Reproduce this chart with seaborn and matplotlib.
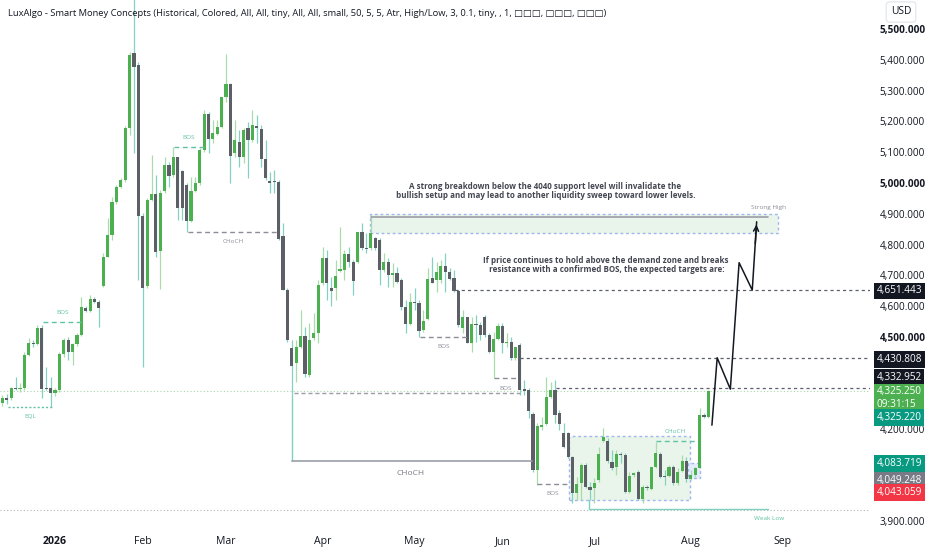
import numpy as np
import pandas as pd
import matplotlib
matplotlib.use("Agg")
import matplotlib.pyplot as plt
import matplotlib.transforms as mtransforms
from matplotlib.patches import Rectangle
import seaborn as sns

# ---------------- data ----------------
holidays = ["2025-12-25", "2026-01-01", "2026-01-19", "2026-02-16", "2026-04-03",
            "2026-05-25", "2026-06-19", "2026-07-03", "2026-09-07"]

opens = [4285, 4302, 4300, 4334, 4329, 4333, 4441, 4481, 4478, 4530, 4333, 4333, 4317, 4327, 4443, 4490,
         4452, 4476, 4506, 4593, 4585, 4622, 4613, 4666, 4761, 4831, 4937, 4986, 5010, 5178, 5421, 5383,
         4893, 4666, 4945, 4963, 4780, 4975, 5058, 5026, 5083, 5040, 4994, 4876, 4975, 4999, 5107, 5224,
         5142, 5159, 5181, 5279, 5322, 5098, 5134, 5083, 5178, 5140, 5185, 5174, 5078, 5005, 5007, 5004,
         4828, 4652, 4464, 4414, 4468, 4503, 4376, 4495, 4512, 4674, 4757, 4660, 4658, 4715, 4717, 4768,
         4742, 4742, 4840, 4790, 4788, 4820, 4815, 4717, 4744, 4701, 4706, 4685, 4596, 4542, 4614, 4611,
         4522, 4557, 4690, 4685, 4685, 4731, 4712, 4690, 4650, 4530, 4563, 4481, 4542, 4539, 4565, 4506,
         4452, 4492, 4535, 4480, 4484, 4430, 4474, 4330, 4327, 4249, 4067, 4207, 4217, 4305, 4327, 4253,
         4188, 4188, 4110, 3992, 4024, 4083, 4013, 4008, 4035, 4162, 4162, 4094, 4076, 4119, 4116, 3997,
         4051, 4060, 3972, 4013, 4004, 4076, 4119, 4049, 4049, 4076, 4024, 4065, 4096, 4037, 4051, 4073,
         4246, 4240]
highs = [4311, 4314, 4338, 4371, 4350, 4452, 4496, 4490, 4539, 4539, 4403, 4371, 4334, 4451, 4495, 4500,
         4480, 4512, 4630, 4600, 4636, 4630, 4620, 4772, 4885, 4955, 4994, 5016, 5186, 5427, 5640, 5394,
         4902, 4951, 5091, 5026, 4977, 5085, 5069, 5118, 5085, 5042, 4999, 5020, 5020, 5114, 5237, 5232,
         5205, 5205, 5280, 5419, 5324, 5205, 5172, 5178, 5199, 5237, 5221, 5188, 5140, 5037, 5042, 5010,
         4870, 4659, 4490, 4490, 4587, 4533, 4544, 4576, 4685, 4793, 4782, 4695, 4750, 4858, 4782, 4793,
         4750, 4842, 4871, 4836, 4896, 4825, 4820, 4772, 4755, 4739, 4728, 4690, 4620, 4642, 4658, 4620,
         4587, 4723, 4761, 4744, 4750, 4772, 4723, 4717, 4652, 4587, 4565, 4565, 4571, 4549, 4571, 4512,
         4517, 4544, 4544, 4512, 4500, 4465, 4479, 4360, 4333, 4255, 4219, 4240, 4371, 4354, 4360, 4262,
         4219, 4192, 4113, 4045, 4089, 4089, 4029, 4040, 4143, 4203, 4170, 4132, 4132, 4127, 4121, 4062,
         4062, 4067, 4019, 4019, 4078, 4159, 4127, 4067, 4084, 4084, 4073, 4116, 4110, 4067, 4078, 4268,
         4251, 4327]
lows = [4275, 4282, 4295, 4327, 4320, 4327, 4438, 4467, 4474, 4300, 4327, 4273, 4308, 4321, 4436, 4425,
        4409, 4470, 4503, 4581, 4582, 4610, 4533, 4661, 4760, 4815, 4932, 4984, 5004, 5156, 5097, 4685,
        4403, 4659, 4941, 4761, 4655, 4966, 4988, 5020, 4880, 4880, 4842, 4874, 4972, 4994, 5102, 5097,
        5129, 5156, 5178, 5264, 5000, 5085, 5053, 5064, 5015, 5134, 5129, 5053, 5010, 4966, 4966, 4815,
        4652, 4484, 4300, 4354, 4463, 4371, 4371, 4490, 4479, 4669, 4620, 4600, 4620, 4712, 4685, 4728,
        4636, 4739, 4782, 4771, 4782, 4782, 4669, 4712, 4663, 4663, 4674, 4587, 4511, 4539, 4587, 4500,
        4517, 4555, 4674, 4647, 4674, 4647, 4685, 4647, 4533, 4511, 4479, 4452, 4484, 4490, 4500, 4446,
        4365, 4490, 4446, 4468, 4425, 4425, 4311, 4311, 4235, 4060, 4019, 4197, 4214, 4300, 4219, 4197,
        4138, 4105, 3959, 3970, 3970, 4008, 3970, 3959, 4029, 4159, 4089, 4067, 4051, 4089, 3992, 3992,
        4045, 3970, 3959, 4002, 4002, 4073, 4040, 4019, 4045, 4019, 4019, 4062, 4029, 4035, 4045, 4073,
        4235, 4235]
closes = [4301, 4295, 4333, 4329, 4334, 4441, 4481, 4477, 4530, 4330, 4329, 4317, 4327, 4443, 4490, 4452,
          4476, 4506, 4596, 4585, 4622, 4614, 4593, 4761, 4831, 4937, 4986, 5010, 5180, 5416, 5378, 4893,
          4658, 4945, 4963, 4775, 4966, 5058, 5023, 5083, 4920, 4920, 4876, 4975, 4999, 5107, 5224, 5142,
          5163, 5181, 5279, 5322, 5088, 5140, 5083, 5172, 5140, 5188, 5178, 5078, 5017, 5000, 5002, 4817,
          4652, 4490, 4405, 4468, 4503, 4379, 4490, 4512, 4669, 4757, 4676, 4650, 4698, 4721, 4768, 4744,
          4682, 4840, 4788, 4785, 4836, 4790, 4717, 4744, 4701, 4706, 4679, 4596, 4542, 4614, 4610, 4520,
          4552, 4688, 4676, 4712, 4730, 4712, 4687, 4650, 4539, 4563, 4481, 4542, 4539, 4506, 4506, 4452,
          4492, 4535, 4481, 4484, 4430, 4468, 4327, 4324, 4260, 4067, 4210, 4214, 4305, 4327, 4246, 4217,
          4143, 4109, 3992, 4022, 4083, 4013, 4002, 4026, 4119, 4173, 4096, 4074, 4119, 4115, 3997, 4048,
          4056, 3972, 4013, 4008, 4076, 4123, 4045, 4045, 4076, 4026, 4062, 4096, 4037, 4051, 4073, 4246,
          4238, 4325]

month_labels = ["2026", "Feb", "Mar", "Apr", "May", "Jun", "Jul", "Aug", "Sep"]
# 4,400 / 4,300 / 4,100 / 4,000 sit under the price-scale labels, so they are not shown
price_ticks = [3900, 4200, 4500, 4600, 4700, 4800, 4900, 5000, 5100, 5200, 5300, 5400, 5500]
bold_ticks = [4500, 5000, 5500]

# market-structure lines (bar index, price)
struct_start = [1.3, 9.3, 39.1, 42.3, 95.2, 112.0, 121.9, 149.0]
struct_end = [11.3, 18.2, 46.0, 62.9, 106.0, 117.4, 129.2, 157.9]
struct_price = [4272, 4548, 5117, 4841, 4500, 4365, 4022, 4162]
struct_label = ["EQL", "BOS", "BOS", "CHoCH", "BOS", "BOS", "BOS", "CHoCH"]
struct_bull = [True, True, True, False, False, False, False, True]

choch_idx = [66.0, 120.7]
choch_price = [4300, 4096]
swing_line = [66.5, 118.0, 4317]

target_levels = [4651.443, 4430.808, 4332.952]
target_start = [103.2, 118.0, 126.2]

supply_zone = [83.8, 176.9, 4838, 4899]
strong_high = [84.0, 174.6, 4889.5]
demand_zone = [129.2, 156.8, 3970, 4178]
fvg_zone = [156.4, 159.0, 4041, 4090]
weak_low = [133.8, 174.6, 3940.5, 3970]
eq_line = 3937

proj_idx = [161.8, 163.0, 166.0, 168.0, 171.0, 172.0]
proj_price = [4213, 4432, 4330, 4741, 4652, 4874]

scale_values = ["4,651.443", "4,430.808", "4,332.952", "4,325.250\n09:31:15", "4,325.220",
                "4,083.719", "4,049.248", "4,043.059"]
scale_pos = [4649, 4426, 4368, 4300, 4238, 4088, 4033, 3994]
scale_bg = ["#131722", "#131722", "#131722", "#4caf50", "#089981", "#089981", "#787b86", "#f23645"]

title = ("LuxAlgo - Smart Money Concepts (Historical, Colored, All, All, tiny, All, All, small, 50, 5, 5, "
         "Atr, High/Low, 3, 0.1, tiny, , 1, \u25a1\u25a1\u25a1, \u25a1\u25a1\u25a1, \u25a1\u25a1\u25a1)")
note1 = ("A strong breakdown below the 4040 support level will invalidate the\n"
         " bullish setup and may lead to another liquidity sweep toward lower levels.")
note2 = ("If price continues to hold above the demand zone and breaks\n"
         " resistance with a confirmed BOS, the expected targets are:")

# ---------------- style ----------------
sns.set_theme(style="white")
plt.rcParams["font.family"] = ["Open Sans", "DejaVu Sans"]

GREEN = "#4caf50"
DARK = "#5d5f66"
WICK_G = "#a9dcaa"
WICK_D = "#85d0c0"
TEAL = "#5fc2a4"
GREY = "#8b8e97"
TXT = "#131722"

dates = pd.bdate_range("2025-12-15", "2026-09-30", freq="C", holidays=holidays)
n = len(opens)
idx = np.arange(n)
o = np.array(opens, float); h = np.array(highs, float)
l = np.array(lows, float); c = np.array(closes, float)
up = c >= o

fig = plt.figure(figsize=(9.32, 5.5), dpi=100)
ax = fig.add_axes([0, 22 / 550, 870 / 932, 528 / 550])
ax.set_xlim(-0.55, 197.85)
ax.set_ylim(3878.75, 5594.75)

# zones
def zone(z, fc="#e9f5ea"):
    r = Rectangle((z[0], z[2]), z[1] - z[0], z[3] - z[2], facecolor=fc, edgecolor="#9fb6ee",
                  lw=1.0, ls=(0, (2, 2)), zorder=1)
    ax.add_patch(r)

zone(supply_zone)
zone(demand_zone)
zone(fvg_zone, fc="#e3ecfb")

# faint full-width lines
ax.axhline(closes[-1], color=GREEN, lw=0.8, ls=(0, (1, 2)), alpha=0.5, zorder=1)
ax.axhline(eq_line, color="#b2b5be", lw=0.8, ls=(0, (1, 2)), zorder=1)

# candles
wick_cols = [WICK_G if u else WICK_D for u in up]
body_cols = [GREEN if u else DARK for u in up]
ax.vlines(idx, l, h, colors=wick_cols, lw=0.9, zorder=2)
body_h = np.maximum(np.abs(c - o), 3.0)
ax.bar(idx, body_h, bottom=np.minimum(o, c), width=0.72, color=body_cols, linewidth=0, zorder=3)

# structure lines
for s, e, p, lab, bull in zip(struct_start, struct_end, struct_price, struct_label, struct_bull):
    col = TEAL if bull else GREY
    ls = (0, (1.5, 1.5)) if lab == "EQL" else (0, (3.5, 2.5))
    ax.plot([s, e], [p, p], color=col, lw=1.0, ls=ls, zorder=4)
    dy = -7 if (lab == "EQL" or not bull) else 7
    ax.annotate(lab, ((s + e) / 2, p), xytext=(0, dy), textcoords="offset points",
                ha="center", va="center", fontsize=4.6, color=col, zorder=5)

# big CHoCH
ax.plot([choch_idx[0], choch_idx[0]], [choch_price[0], choch_price[1]], color="#7fd0bc", lw=1.0, zorder=4)
ax.plot(choch_idx, [choch_price[1]] * 2, color="#9b9ea6", lw=1.2, zorder=4)
ax.annotate("CHoCH", (sum(choch_idx) / 2 - 0.3, choch_price[1]), xytext=(0, -9), textcoords="offset points",
            ha="center", va="center", fontsize=6.0, color="#787b86", zorder=5)
ax.plot(swing_line[:2], [swing_line[2]] * 2, color="#9b9ea6", lw=1.0, ls=(0, (3, 2)), zorder=4)

# target levels
for p, s in zip(target_levels, target_start):
    ax.plot([s, 197.85], [p, p], color="#5d606b", lw=0.9, ls=(0, (2.5, 2.5)), zorder=4)

# strong high / weak low
ax.plot(strong_high[:2], [strong_high[2]] * 2, color="#9b9ea6", lw=1.2, zorder=4)
ax.text(strong_high[1] + 0.2, strong_high[2] + 32, "Strong High", fontsize=4.6, color=GREY,
        ha="center", va="center", zorder=5)
ax.plot(weak_low[:2], [weak_low[2]] * 2, color="#7fd0bc", lw=1.0, zorder=4)
ax.plot([weak_low[0], weak_low[0]], [weak_low[3], weak_low[2]], color="#7fd0bc", lw=1.0, zorder=4)
ax.text(weak_low[1] + 0.2, weak_low[2] - 32, "Weak Low", fontsize=4.6, color=TEAL,
        ha="center", va="center", zorder=5)

# projection path
proj = pd.DataFrame({"bar": proj_idx, "price": proj_price})
sns.lineplot(data=proj, x="bar", y="price", sort=False, estimator=None, color=TXT, lw=1.1, ax=ax, zorder=6)
ax.annotate("", xy=(proj_idx[-1], proj_price[-1]), xytext=(proj_idx[-1] - 0.35, proj_price[-1] - 80),
            arrowprops=dict(arrowstyle="->", color=TXT, lw=1.1, mutation_scale=9), zorder=6)

# notes
ax.text(123.7, 4974, note1, ha="center", va="center", fontsize=5.75, fontweight="bold",
        color="#434651", linespacing=1.05, zorder=7)
ax.text(137.5, 4733, note2, ha="center", va="center", fontsize=5.75, fontweight="bold",
        color="#434651", linespacing=1.05, zorder=7)

# axes formatting
for sp in ax.spines.values():
    sp.set_visible(False)
ax.grid(False)
ax.set_xlabel(""); ax.set_ylabel("")
month_pos = []
for m in [1, 2, 3, 4, 5, 6, 7, 8, 9]:
    first = np.where(dates.month == m)[0][0]
    month_pos.append(first)
ax.set_xticks(month_pos)
ax.set_xticklabels(month_labels)
ax.tick_params(axis="x", length=0, pad=6, labelsize=7.6, labelcolor=TXT)
ax.get_xticklabels()[0].set_fontweight("bold")

ax.yaxis.tick_right()
ax.set_yticks(price_ticks)
ax.set_yticklabels([f"{v:,.3f}" for v in price_ticks])
ax.tick_params(axis="y", length=0, pad=7, labelsize=7.2, labelcolor=TXT)
for v, t in zip(price_ticks, ax.get_yticklabels()):
    if v in bold_ticks:
        t.set_fontweight("bold")

# price scale labels
trans = mtransforms.blended_transform_factory(ax.transAxes, ax.transData)
for txt, pos, bg in zip(scale_values, scale_pos, scale_bg):
    ax.text(1.0075, pos, txt, transform=trans, ha="left", va="center", fontsize=7.2, color="white",
            linespacing=1.25, clip_on=False, zorder=20,
            bbox=dict(boxstyle="square,pad=0.28", facecolor=bg, edgecolor="none"))

# USD box & title
fig.text(901 / 932, 1 - 12 / 550, "USD", ha="center", va="center", fontsize=7.4, color=TXT, zorder=20,
         bbox=dict(boxstyle="round,pad=0.45,rounding_size=0.3", facecolor="white", edgecolor="#e0e3eb", lw=0.8))
fig.text(8 / 932, 1 - 13 / 550, title, ha="left", va="center", fontsize=6.75, color=TXT)

fig.savefig("out.png", dpi=100)
